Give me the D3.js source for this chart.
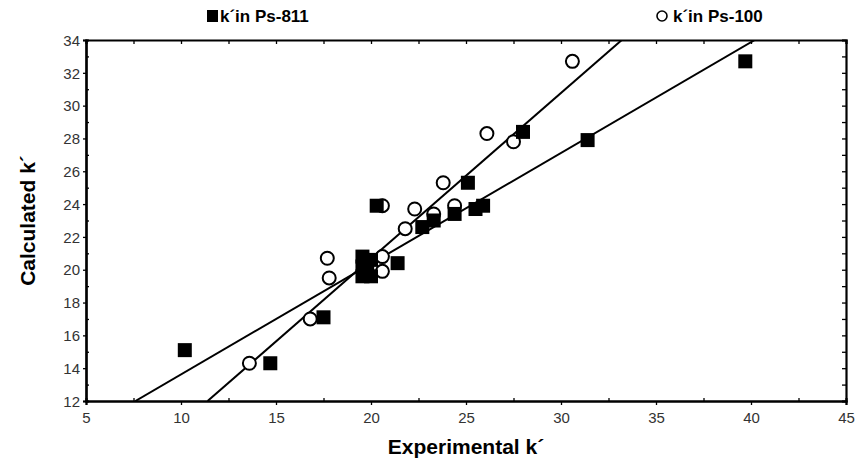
<!DOCTYPE html>
<html><head><meta charset="utf-8">
<script src="https://cdn.jsdelivr.net/npm/d3@7"></script>
<style>body{margin:0;background:#fff}svg{display:block}</style>
</head><body><svg id="c" width="861" height="469"></svg>
<script>
// Ps-811 (filled squares): [experimental, calculated]
const squaresX = [10.2, 14.7, 17.5, 19.55, 19.55, 19.55, 20.0, 20.0, 19.8, 20.3, 21.4, 22.7, 23.3, 24.4, 25.5, 25.9, 25.1, 28.0, 31.4, 39.7];
const squaresY = [15.1, 14.3, 17.1, 20.8, 20.2, 19.6, 20.6, 19.6, 20.1, 23.9, 20.4, 22.6, 23.0, 23.4, 23.7, 23.9, 25.3, 28.4, 27.9, 32.7];
// Ps-100 (open circles)
const circlesX = [13.6, 16.8, 17.7, 17.8, 20.6, 20.6, 20.6, 21.8, 22.3, 23.3, 23.8, 24.4, 26.1, 27.5, 30.6];
const circlesY = [14.3, 17.0, 20.7, 19.5, 20.8, 19.9, 23.9, 22.5, 23.7, 23.4, 25.3, 23.9, 28.3, 27.8, 32.7];
// fitted lines (endpoints in data units)
const lineSquares = [[7.6, 12], [40.2, 34]];
const lineCircles = [[11.4, 12], [33.2, 34]];
const xTicks = [5, 10, 15, 20, 25, 30, 35, 40, 45];
const yTicks = [12, 14, 16, 18, 20, 22, 24, 26, 28, 30, 32, 34];
const legendLabels = ["k´in Ps-811", "k´in Ps-100"];

const svg = d3.select("#c");
const m = {l: 86, t: 40, r: 15, b: 68};
const W = 861 - m.l - m.r, H = 469 - m.t - m.b;
const x = d3.scaleLinear().domain([5, 45]).range([m.l, m.l + W]);
const y = d3.scaleLinear().domain([12, 34]).range([m.t + H, m.t]);

svg.append("defs").append("clipPath").attr("id", "clip")
  .append("rect").attr("x", m.l).attr("y", m.t).attr("width", W).attr("height", H);

const tickFont = "'Liberation Sans', Arial, sans-serif";

// axes
const gx = svg.append("g").attr("transform", `translate(0,${m.t + H})`)
  .call(d3.axisBottom(x).tickValues(xTicks).tickSize(4).tickPadding(7));
const gxt = svg.append("g").attr("transform", `translate(0,${m.t})`)
  .call(d3.axisBottom(x).tickValues(d3.range(5, 45.1, 2.5)).tickSize(4).tickFormat(""));
const gxm = svg.append("g").attr("transform", `translate(0,${m.t + H})`)
  .call(d3.axisTop(x).tickValues(d3.range(7.5, 45, 5)).tickSize(3).tickFormat(""));
const gy = svg.append("g").attr("transform", `translate(${m.l},0)`)
  .call(d3.axisLeft(y).tickValues(yTicks).tickSize(3).tickPadding(3));
const gym = svg.append("g").attr("transform", `translate(${m.l},0)`)
  .call(d3.axisRight(y).tickValues(d3.range(13, 34, 2)).tickSize(3).tickFormat(""));
const gyr = svg.append("g").attr("transform", `translate(${m.l + W},0)`)
  .call(d3.axisLeft(y).tickValues(d3.range(12, 34.1, 1)).tickSize(4).tickFormat(""));

[gx, gxt, gxm, gy, gym, gyr].forEach(g => {
  g.select(".domain").attr("stroke", "#000").attr("stroke-width", 2.2);
  g.selectAll(".tick line").attr("stroke", "#000").attr("stroke-width", 1.3);
  g.selectAll("text").attr("font-family", tickFont).attr("font-size", 15).attr("fill", "#333");
});
gy.selectAll("text").attr("dy", "0.35em");

// fitted lines
const lineGen = d3.line().x(d => x(d[0])).y(d => y(d[1]));
const lg = svg.append("g").attr("clip-path", "url(#clip)");
[lineSquares, lineCircles].forEach(L => {
  lg.append("path").attr("d", lineGen(L)).attr("fill", "none").attr("stroke", "#000").attr("stroke-width", 2);
});

// markers (circles under squares)
svg.append("g").selectAll("circle").data(circlesX.map((v, i) => [v, circlesY[i]])).join("circle")
  .attr("cx", d => x(d[0])).attr("cy", d => y(d[1])).attr("r", 6.5)
  .attr("fill", "#fff").attr("stroke", "#000").attr("stroke-width", 2);
const sq = 14;
svg.append("g").selectAll("rect").data(squaresX.map((v, i) => [v, squaresY[i]])).join("rect")
  .attr("x", d => x(d[0]) - sq / 2).attr("y", d => y(d[1]) - sq / 2)
  .attr("width", sq).attr("height", sq).attr("fill", "#000");

// axis titles
const titleFont = "'Liberation Sans', Arial, sans-serif";
svg.append("text").attr("x", x(25)).attr("y", 454).attr("text-anchor", "middle")
  .attr("font-family", titleFont).attr("font-weight", "bold").attr("font-size", 21).text("Experimental k´");
svg.append("text").attr("transform", `translate(35,${y(23)}) rotate(-90)`).attr("text-anchor", "middle")
  .attr("font-family", titleFont).attr("font-weight", "bold").attr("font-size", 21).text("Calculated k´");

// legend
const leg = svg.append("g").attr("font-family", titleFont).attr("font-weight", "bold").attr("font-size", 17);
leg.append("rect").attr("x", 207).attr("y", 10).attr("width", 11).attr("height", 12).attr("fill", "#000");
leg.append("text").attr("x", 220).attr("y", 22).text(legendLabels[0]);
leg.append("circle").attr("cx", 662).attr("cy", 16).attr("r", 5).attr("fill", "#fff").attr("stroke", "#000").attr("stroke-width", 1.6);
leg.append("text").attr("x", 673).attr("y", 22).text(legendLabels[1]);
</script></body></html>
